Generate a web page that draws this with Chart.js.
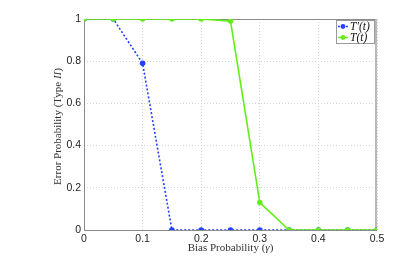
<!DOCTYPE html>
<html><head><meta charset="utf-8">
<script src="https://cdn.jsdelivr.net/npm/chart.js@4"></script>
<style>html,body{margin:0;padding:0;background:#fff}#wrap{width:415px;height:259px;position:relative}</style>
</head><body><div id="wrap"><canvas id="c" width="415" height="259"></canvas></div>
<script>
const gammaValues = [0, 0.05, 0.1, 0.15, 0.2, 0.25, 0.3, 0.35, 0.4, 0.45, 0.5];
const tPrimeValues = [1, 1, 0.79, 0, 0, 0, 0, 0, 0, 0, 0];
const tValues = [1, 1, 1, 1, 1, 0.99, 0.13, 0, 0, 0, 0];
const xTicks = [0, 0.1, 0.2, 0.3, 0.4, 0.5];
const yTicks = [0, 0.2, 0.4, 0.6, 0.8, 1];
const seriesNames = ["T\u2032(t)", "T(t)"];
const xTitle = ["Bias Probability (", "\u03b3", ")"];
const yTitle = ["Error Probability (Type ", "II", ")"];

const blue = 'rgb(35,65,255)';
const green = 'rgb(100,238,25)';

const decor = {
  id: 'decor',
  beforeDatasetsDraw(chart) {
    const {ctx, chartArea: a} = chart;
    ctx.save();
    ctx.setLineDash([]);
    // top border
    ctx.strokeStyle = '#8a8a8a'; ctx.lineWidth = 1;
    ctx.beginPath(); ctx.moveTo(a.left, a.top + 0.5); ctx.lineTo(a.right, a.top + 0.5); ctx.stroke();
    // right border
    ctx.strokeStyle = '#b8b8b8'; ctx.lineWidth = 2;
    ctx.beginPath(); ctx.moveTo(a.right - 1, a.top); ctx.lineTo(a.right - 1, a.bottom); ctx.stroke();
    // left & bottom axis lines
    ctx.strokeStyle = '#8a8a8a'; ctx.lineWidth = 1;
    ctx.beginPath(); ctx.moveTo(a.left + 0.5, a.top); ctx.lineTo(a.left + 0.5, a.bottom + 0.5); ctx.lineTo(a.right, a.bottom + 0.5); ctx.stroke();
    ctx.restore();
  },
  afterDraw(chart) {
    const {ctx, chartArea: a} = chart;
    ctx.save();
    const serif = '"Liberation Serif", "DejaVu Serif", serif';
    function mixed(parts, italicIdx, size) {
      const fonts = parts.map((p, i) => (i === italicIdx ? 'italic ' : '') + size + 'px ' + serif);
      const widths = parts.map((p, i) => { ctx.font = fonts[i]; return ctx.measureText(p).width; });
      const total = widths.reduce((s, w) => s + w, 0);
      return {fonts, widths, total};
    }
    ctx.fillStyle = '#333';
    ctx.textBaseline = 'middle';
    ctx.textAlign = 'left';
    let m = mixed(xTitle, 1, 11);
    let x = (a.left + a.right) / 2 - m.total / 2;
    xTitle.forEach((p, i) => { ctx.font = m.fonts[i]; ctx.fillText(p, x, 248); x += m.widths[i]; });
    m = mixed(yTitle, 1, 11);
    ctx.save();
    ctx.translate(58, (a.top + a.bottom) / 2 + 2);
    ctx.rotate(-Math.PI / 2);
    x = -m.total / 2;
    yTitle.forEach((p, i) => { ctx.font = m.fonts[i]; ctx.fillText(p, x, 0); x += m.widths[i]; });
    ctx.restore();

    // legend
    const lx = a.right - 41, ly = a.top + 1, lw = 38, lh = 23;
    ctx.fillStyle = '#fff';
    ctx.fillRect(lx, ly, lw, lh);
    ctx.strokeStyle = '#9a9a9a'; ctx.lineWidth = 1;
    ctx.strokeRect(lx + 0.5, ly + 0.5, lw, lh);
    const ds = chart.data.datasets;
    ds.forEach((d, i) => {
      const yy = ly + 6.5 + i * 11;
      ctx.strokeStyle = d.borderColor; ctx.lineWidth = 1.5;
      ctx.setLineDash(d.borderDash || []);
      ctx.beginPath(); ctx.moveTo(lx + 2, yy); ctx.lineTo(lx + 12, yy); ctx.stroke();
      ctx.setLineDash([]);
      ctx.fillStyle = d.borderColor;
      ctx.beginPath(); ctx.arc(lx + 7, yy, 2.4, 0, Math.PI * 2); ctx.fill();
      ctx.fillStyle = '#111';
      ctx.font = 'italic 11.5px ' + serif;
      ctx.textBaseline = 'middle';
      ctx.fillText(seriesNames[i], lx + 14, yy + 0.5);
    });
    ctx.restore();
  }
};

new Chart(document.getElementById('c'), {
  type: 'line',
  data: {
    datasets: [
      {
        label: seriesNames[0],
        data: gammaValues.map((g, i) => ({x: g, y: tPrimeValues[i]})),
        borderColor: blue, backgroundColor: blue,
        borderWidth: 1.6, borderDash: [2, 2],
        pointRadius: 2.8, pointBorderWidth: 0, pointBackgroundColor: blue,
        tension: 0, order: 2
      },
      {
        label: seriesNames[1],
        data: gammaValues.map((g, i) => ({x: g, y: tValues[i]})),
        borderColor: green, backgroundColor: green,
        borderWidth: 1.6,
        pointRadius: 2.8, pointBorderWidth: 0, pointBackgroundColor: green,
        tension: 0, order: 1
      }
    ]
  },
  options: {
    responsive: false, animation: false,
    devicePixelRatio: 1,
    layout: {padding: {left: 0, right: 38, top: 19, bottom: 0}},
    plugins: {legend: {display: false}, tooltip: {enabled: false}},
    scales: {
      x: {
        type: 'linear', min: 0, max: 0.5,
        afterBuildTicks(s) { s.ticks = xTicks.map(v => ({value: v})); },
        afterFit(s) { s.height = 29; },
        grid: {color: '#d4d4d4', lineWidth: 1, drawTicks: false},
        border: {display: false, dash: [1, 2]},
        ticks: {padding: 3, color: '#222', font: {family: '"Liberation Sans", Arial, sans-serif', size: 10.5}, maxRotation: 0,
          callback: v => String(v)}
      },
      y: {
        min: 0, max: 1,
        afterBuildTicks(s) { s.ticks = yTicks.map(v => ({value: v})); },
        afterFit(s) { s.width = 84; },
        grid: {color: '#d4d4d4', lineWidth: 1, drawTicks: false},
        border: {display: false, dash: [1, 2]},
        ticks: {padding: 3, color: '#222', font: {family: '"Liberation Sans", Arial, sans-serif', size: 10.5},
          callback: v => String(v)}
      }
    }
  },
  plugins: [decor]
});
</script></body></html>
